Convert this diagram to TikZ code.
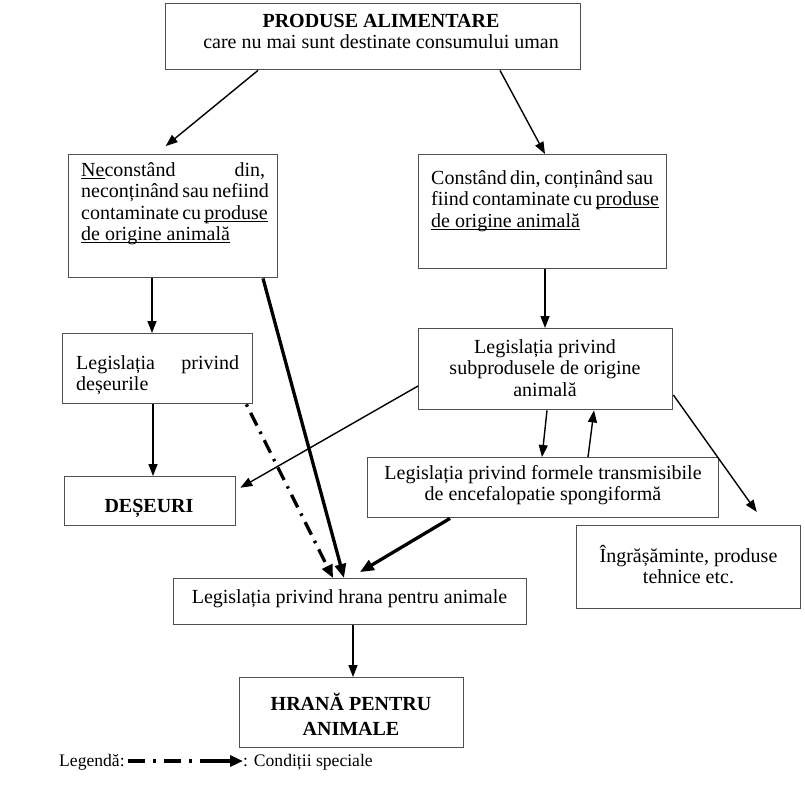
\documentclass[tikz,border=0pt]{standalone}
\usepackage{fontspec}
\setmainfont{Liberation Serif}
\usetikzlibrary{arrows.meta}
\definecolor{boxgray}{HTML}{505050}
\newcommand\fsz{\fontsize{20}{21.5}\selectfont}
\newcommand\lsz{\fontsize{17.6}{20}\selectfont}
\newcommand\st{\rule[-6pt]{0pt}{24pt}}
\newcommand\myul[1]{\setbox0=\hbox{#1}\rlap{\rule[-2.6pt]{\wd0}{0.9pt}}\box0}
\tikzset{
  box/.style={draw=boxgray, line width=1.4pt, inner sep=0pt, anchor=north west, rectangle},
  txt/.style={inner sep=0pt, font=\fsz, anchor=north},
  jtxt/.style={inner sep=0pt, font=\fsz, anchor=north west, align=left},
  legtxt/.style={inner sep=0pt, font=\lsz, anchor=base west},
  arr/.style={draw=black, line width=1.4pt, -{Triangle[length=12pt,width=9pt]}},
  thickarr/.style={draw=black, line width=3.3pt, -{Triangle[length=14pt,width=11pt]}},
  dotdash/.style={draw=black, line width=3.3pt, dash pattern=on 2.5pt off 7pt on 14pt off 7pt, -{Triangle[length=13pt,width=11pt]}},
}
\begin{document}
\begin{tikzpicture}[x=1pt,y=-1pt]
\useasboundingbox (0,0) rectangle (805,788);
% boxes
\node[box, minimum width=415pt, minimum height=66pt] (top) at (165,3) {};
\node[box, minimum width=209pt, minimum height=123pt] (necon) at (68,154) {};
\node[box, minimum width=248pt, minimum height=114pt] (const) at (418,154) {};
\node[box, minimum width=190pt, minimum height=70pt] (lgdes) at (62,333) {};
\node[box, minimum width=254pt, minimum height=81pt] (lgsub) at (418,328) {};
\node[box, minimum width=171pt, minimum height=49pt] (des) at (64,476) {};
\node[box, minimum width=351pt, minimum height=60pt] (lgtse) at (367,457) {};
\node[box, minimum width=224pt, minimum height=83pt] (ingr) at (576,525) {};
\node[box, minimum width=353pt, minimum height=46pt] (lghr) at (173,578) {};
\node[box, minimum width=224pt, minimum height=70pt] (hrana) at (239,677) {};
% texts
\node[txt, align=center] (top-t) at (381,9) {\st\textbf{PRODUSE ALIMENTARE}\\care nu mai sunt destinate consumului uman};
\node[jtxt] (necon-t) at (81,158) {\makebox[184pt][s]{\st\myul{Ne}constând din,}\\
\makebox[184pt][s]{neconținând sau nefiind}\\
\makebox[184pt][s]{contaminate cu \myul{produse}}\\
\myul{de origine animală}};
\node[jtxt] (const-t) at (431,166) {\makebox[219pt][s]{\st Constând din, conținând sau}\\
\makebox[219pt][s]{fiind contaminate cu \myul{produse}}\\
\myul{de origine animală}};
\node[jtxt] (lgdes-t) at (76,351) {\makebox[163pt][s]{\st Legislația privind}\\deșeurile};
\node[txt, align=center] (lgsub-t) at (545,335) {\st Legislația privind\\subprodusele de origine\\animală};
\node[txt] (des-t) at (149,494) {\st\textbf{DEȘEURI}};
\node[txt, align=center] (lgtse-t) at (543,461) {\st Legislația privind formele transmisibile\\de encefalopatie spongiformă};
\node[txt, align=center] (ingr-t) at (688.5,544) {\st Îngrășăminte, produse\\tehnice etc.};
\node[txt] (lghr-t) at (349.5,585.5) {\st Legislația privind hrana pentru animale};
\node[txt, align=center] (hrana-t) at (351,692.5) {\st\textbf{HRANĂ PENTRU}\\[3.5pt]\textbf{ANIMALE}};
% connectors
\draw[arr, shorten >=12.5pt] ([xshift=93pt]top.south west) -- ([xshift=88pt]necon.north west);
\draw[arr] ([xshift=335pt]top.south west) -- ([xshift=127pt]const.north west);
\draw[arr] ([xshift=84pt]necon.south west) -- ([xshift=90pt]lgdes.north west);
\draw[arr] ([xshift=127pt]const.south west) -- ([xshift=127pt]lgsub.north west);
\draw[arr] ([xshift=91pt]lgdes.south west) -- ([xshift=89pt]des.north west);
\draw[arr, shorten >=4.5pt] ([yshift=-58pt]lgsub.north west) -- ([yshift=-14pt]des.north east);
\draw[arr] ([xshift=129pt]lgsub.south west) -- ([xshift=175pt]lgtse.north west);
\draw[arr] ([xshift=221pt]lgtse.north west) -- ([xshift=176pt]lgsub.south west);
\draw[arr, shorten >=16pt] ([yshift=-67pt]lgsub.north east) -- ([xshift=190pt]ingr.north west);
\draw[thickarr] ([xshift=195pt]necon.south west) -- ([xshift=171pt]lghr.north west);
\draw[dotdash] ([xshift=-7pt]lgdes.south east) -- ([xshift=160pt]lghr.north west);
\draw[thickarr, shorten >=11.5pt] ([xshift=83pt]lgtse.south west) -- ([xshift=177pt]lghr.north west);
\draw[arr] ([xshift=180pt]lghr.south west) -- ([xshift=114pt]hrana.north west);
% legend
\node[legtxt] (leg1) at (59,766.5) {Legendă:};
\coordinate (legA) at (128,761);
\coordinate (legB) at (243,761);
\draw[draw=black, line width=3.6pt, dash pattern=on 17pt off 8pt on 3pt off 8pt on 17pt off 8pt on 3pt off 8pt on 200pt off 1pt, -{Triangle[length=13pt,width=11pt]}] (legA) -- (legB);
\node[legtxt] (leg2) at (243,766.5) {: Condiții speciale};
\end{tikzpicture}
\end{document}
